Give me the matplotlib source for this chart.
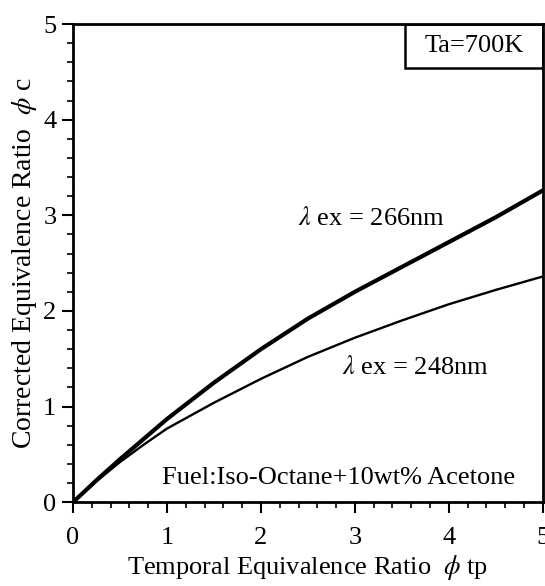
import numpy as np
import matplotlib
matplotlib.use('Agg')
import matplotlib.pyplot as plt
from matplotlib.patches import Rectangle
from matplotlib.ticker import MultipleLocator

plt.rcParams['font.family'] = ['Liberation Serif', 'DejaVu Serif']
plt.rcParams['mathtext.fontset'] = 'stix'

# values
phi_tp = [0, 0.25, 0.5, 0.75, 1.0, 1.5, 2.0, 2.5, 3.0, 3.5, 4.0, 4.5, 5.0]
phi_c_266 = [0, 0.23, 0.45, 0.66, 0.87, 1.25, 1.60, 1.92, 2.20, 2.46, 2.72, 2.98, 3.26]
phi_c_248 = [0, 0.22, 0.42, 0.60, 0.77, 1.04, 1.29, 1.52, 1.72, 1.90, 2.07, 2.22, 2.36]

fig = plt.figure(figsize=(5.45, 5.86), dpi=100)
ax = fig.add_axes([0.134, 0.143, 0.862, 0.816])

ax.plot(phi_tp, phi_c_266, color='black', lw=3.0, solid_capstyle='round')
ax.plot(phi_tp, phi_c_248, color='black', lw=1.7)

ax.set_xlim(0, 5)
ax.set_ylim(0, 5)
ax.xaxis.set_major_locator(MultipleLocator(1))
ax.yaxis.set_major_locator(MultipleLocator(1))
ax.xaxis.set_minor_locator(MultipleLocator(0.2))
ax.yaxis.set_minor_locator(MultipleLocator(0.2))
ax.tick_params(which='major', direction='out', length=8, width=1.5, labelsize=19)
ax.tick_params(which='minor', direction='out', length=4, width=1.2)
ax.tick_params(axis='x', which='major', pad=10)
ax.tick_params(axis='y', which='major', pad=4)
for s in ax.spines.values():
    s.set_linewidth(2)

ax.set_xlabel(r'Temporal Equivalence Ratio  $\phi$ tp', fontsize=19, labelpad=3)
ax.set_ylabel(r'Corrected Equivalence Ratio  $\phi$ c', fontsize=20, labelpad=3)

ax.text(3.18, 2.97, r'$\lambda$ ex = 266nm', fontsize=19, ha='center', va='center')
ax.text(3.64, 1.41, r'$\lambda$ ex = 248nm', fontsize=19, ha='center', va='center')
ax.text(2.83, 0.25, 'Fuel:Iso-Octane+10wt% Acetone', fontsize=19, ha='center', va='center')

ax.add_patch(Rectangle((0.706, 0.908), 0.294, 0.092, transform=ax.transAxes,
                       fill=False, lw=1.8, edgecolor='black'))
ax.text(0.853, 0.954, 'Ta=700K', transform=ax.transAxes, fontsize=19,
        ha='center', va='center')

fig.savefig('out.png', dpi=100)
